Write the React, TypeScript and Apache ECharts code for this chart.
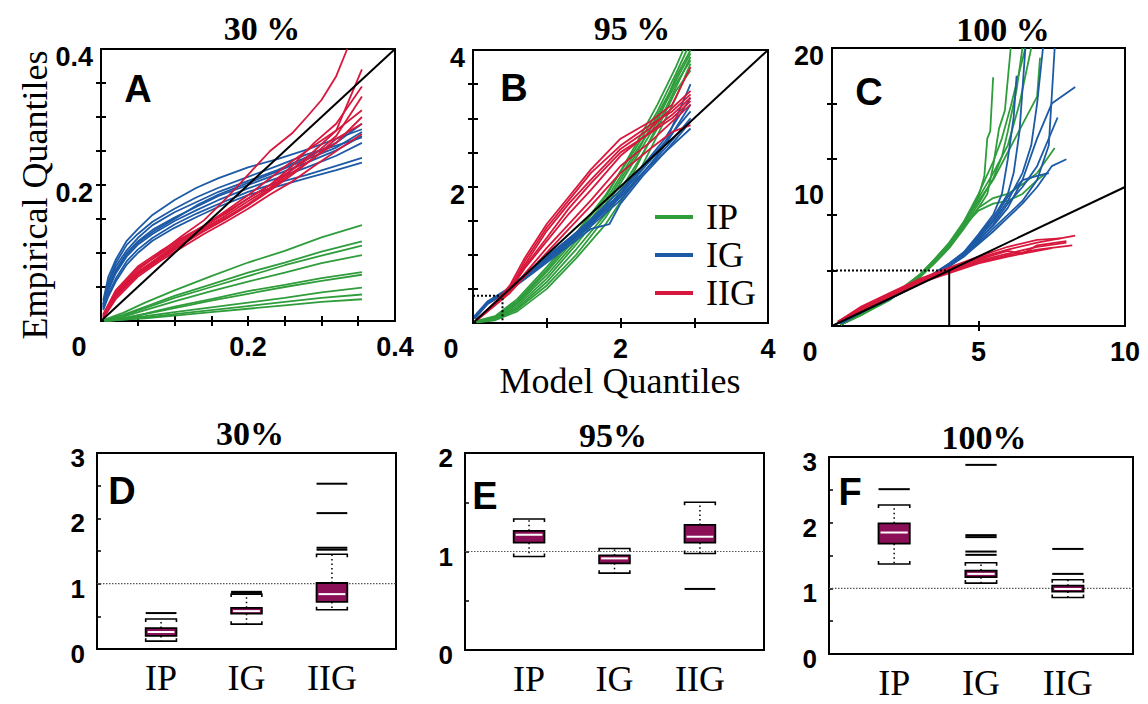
import React, { useEffect, useRef } from 'react';
import * as echarts from 'echarts';

const GREEN = '#2f9d3b';
const BLUE = '#1d5aa6';
const RED = '#d8173c';
const BOX_FILL = '#8b0f57';
const SERIF = '"Liberation Serif", "Times New Roman", serif';
const SANS = '"Liberation Sans", Arial, sans-serif';

// ---------- Panel A (30 %) ----------
const A_IP = [
  [[0.005, 0.002], [0.03, 0.012], [0.06, 0.027], [0.1, 0.045], [0.15, 0.066], [0.2, 0.086], [0.25, 0.103], [0.3, 0.123], [0.355, 0.141]],
  [[0.005, 0.001], [0.03, 0.009], [0.06, 0.021], [0.1, 0.037], [0.15, 0.054], [0.2, 0.071], [0.25, 0.086], [0.3, 0.102], [0.355, 0.117]],
  [[0.005, 0.001], [0.03, 0.008], [0.06, 0.019], [0.1, 0.034], [0.15, 0.05], [0.2, 0.066], [0.25, 0.082], [0.3, 0.096], [0.355, 0.111]],
  [[0.005, 0.001], [0.03, 0.006], [0.06, 0.016], [0.1, 0.029], [0.15, 0.044], [0.2, 0.058], [0.25, 0.071], [0.3, 0.085], [0.355, 0.097]],
  [[0.005, 0.001], [0.03, 0.004], [0.06, 0.011], [0.1, 0.021], [0.15, 0.032], [0.2, 0.044], [0.25, 0.053], [0.3, 0.063], [0.355, 0.072]],
  [[0.005, 0.0], [0.03, 0.004], [0.06, 0.01], [0.1, 0.019], [0.15, 0.03], [0.2, 0.04], [0.25, 0.05], [0.3, 0.059], [0.355, 0.068]],
  [[0.005, 0.0], [0.03, 0.003], [0.06, 0.007], [0.1, 0.013], [0.15, 0.02], [0.2, 0.027], [0.25, 0.034], [0.3, 0.042], [0.355, 0.049]],
  [[0.005, 0.0], [0.03, 0.002], [0.06, 0.005], [0.1, 0.01], [0.15, 0.016], [0.2, 0.022], [0.25, 0.028], [0.3, 0.034], [0.355, 0.039]],
  [[0.005, 0.0], [0.03, 0.002], [0.06, 0.004], [0.1, 0.008], [0.15, 0.013], [0.2, 0.018], [0.25, 0.023], [0.3, 0.028], [0.355, 0.032]],
];
const A_IG = [
  [[0.003, 0.03], [0.01, 0.065], [0.02, 0.09], [0.035, 0.118], [0.05, 0.135], [0.07, 0.156], [0.1, 0.178], [0.13, 0.196], [0.16, 0.21], [0.2, 0.226], [0.24, 0.238], [0.28, 0.252], [0.32, 0.268], [0.355, 0.282]],
  [[0.003, 0.025], [0.01, 0.055], [0.02, 0.08], [0.035, 0.104], [0.05, 0.122], [0.07, 0.141], [0.1, 0.16], [0.13, 0.175], [0.16, 0.19], [0.2, 0.206], [0.24, 0.222], [0.28, 0.241], [0.32, 0.262], [0.355, 0.29]],
  [[0.003, 0.022], [0.01, 0.05], [0.02, 0.075], [0.035, 0.1], [0.05, 0.117], [0.07, 0.134], [0.1, 0.152], [0.13, 0.168], [0.16, 0.184], [0.2, 0.2], [0.24, 0.216], [0.28, 0.233], [0.32, 0.251], [0.355, 0.272]],
  [[0.003, 0.02], [0.01, 0.045], [0.02, 0.07], [0.035, 0.095], [0.05, 0.112], [0.07, 0.128], [0.1, 0.147], [0.13, 0.163], [0.16, 0.178], [0.2, 0.195], [0.24, 0.21], [0.28, 0.226], [0.32, 0.243], [0.355, 0.262]],
  [[0.003, 0.018], [0.01, 0.04], [0.02, 0.062], [0.035, 0.088], [0.05, 0.105], [0.07, 0.122], [0.1, 0.142], [0.13, 0.158], [0.16, 0.172], [0.2, 0.19], [0.24, 0.203], [0.28, 0.215], [0.32, 0.228], [0.355, 0.24]],
  [[0.003, 0.016], [0.01, 0.036], [0.02, 0.058], [0.035, 0.083], [0.05, 0.1], [0.07, 0.118], [0.1, 0.137], [0.13, 0.153], [0.16, 0.168], [0.2, 0.185], [0.24, 0.198], [0.28, 0.21], [0.32, 0.222], [0.355, 0.233]],
  [[0.003, 0.024], [0.01, 0.058], [0.02, 0.085], [0.035, 0.112], [0.05, 0.128], [0.07, 0.146], [0.1, 0.165], [0.13, 0.182], [0.16, 0.196], [0.2, 0.212], [0.24, 0.228], [0.28, 0.245], [0.32, 0.258], [0.355, 0.27]],
  [[0.003, 0.02], [0.01, 0.048], [0.02, 0.072], [0.035, 0.098], [0.05, 0.115], [0.07, 0.131], [0.1, 0.15], [0.13, 0.17], [0.16, 0.186], [0.2, 0.203], [0.24, 0.22], [0.28, 0.238], [0.32, 0.255], [0.355, 0.278]],
];
const A_IIG = [
  [[0.003, 0.008], [0.02, 0.04], [0.05, 0.075], [0.08, 0.1], [0.11, 0.125], [0.14, 0.148], [0.17, 0.18], [0.2, 0.215], [0.23, 0.25], [0.26, 0.276], [0.28, 0.3], [0.3, 0.325], [0.32, 0.36], [0.335, 0.4]],
  [[0.003, 0.01], [0.02, 0.045], [0.05, 0.08], [0.08, 0.102], [0.11, 0.122], [0.14, 0.14], [0.17, 0.158], [0.2, 0.18], [0.23, 0.2], [0.26, 0.223], [0.29, 0.25], [0.32, 0.28], [0.355, 0.37]],
  [[0.003, 0.006], [0.02, 0.04], [0.05, 0.072], [0.08, 0.095], [0.11, 0.118], [0.14, 0.136], [0.17, 0.155], [0.2, 0.176], [0.23, 0.196], [0.26, 0.222], [0.29, 0.245], [0.32, 0.272], [0.355, 0.33]],
  [[0.003, 0.005], [0.02, 0.035], [0.05, 0.068], [0.08, 0.09], [0.11, 0.112], [0.14, 0.132], [0.17, 0.15], [0.2, 0.17], [0.23, 0.192], [0.26, 0.215], [0.29, 0.24], [0.32, 0.262], [0.355, 0.3]],
  [[0.003, 0.008], [0.02, 0.042], [0.05, 0.078], [0.08, 0.098], [0.11, 0.12], [0.14, 0.14], [0.17, 0.162], [0.2, 0.185], [0.23, 0.21], [0.26, 0.235], [0.29, 0.258], [0.32, 0.28], [0.355, 0.31]],
  [[0.003, 0.004], [0.02, 0.032], [0.05, 0.065], [0.08, 0.088], [0.11, 0.108], [0.14, 0.128], [0.17, 0.146], [0.2, 0.165], [0.23, 0.186], [0.26, 0.205], [0.29, 0.228], [0.32, 0.25], [0.355, 0.275]],
  [[0.003, 0.007], [0.02, 0.038], [0.05, 0.07], [0.08, 0.094], [0.11, 0.115], [0.14, 0.138], [0.17, 0.16], [0.2, 0.18], [0.23, 0.2], [0.26, 0.228], [0.29, 0.262], [0.32, 0.29], [0.355, 0.345]],
  [[0.003, 0.006], [0.02, 0.036], [0.05, 0.07], [0.08, 0.092], [0.11, 0.113], [0.14, 0.134], [0.17, 0.152], [0.2, 0.172], [0.23, 0.194], [0.26, 0.218], [0.29, 0.24], [0.32, 0.268], [0.355, 0.29]],
];

// ---------- Panel B (95 %) ----------
const B_IP = [
  [[0.05, 0.02], [0.3, 0.08], [0.6, 0.3], [1.0, 0.75], [1.4, 1.25], [1.8, 1.8], [2.2, 2.5], [2.5, 3.0], [2.75, 3.5], [2.95, 3.85]],
  [[0.05, 0.02], [0.3, 0.06], [0.6, 0.25], [1.0, 0.65], [1.4, 1.15], [1.8, 1.7], [2.2, 2.4], [2.5, 2.95], [2.75, 3.6], [2.95, 4.0]],
  [[0.05, 0.01], [0.3, 0.05], [0.6, 0.2], [1.0, 0.55], [1.4, 1.0], [1.8, 1.55], [2.2, 2.25], [2.5, 2.9], [2.75, 3.45], [2.95, 3.9]],
  [[0.05, 0.03], [0.3, 0.1], [0.6, 0.35], [1.0, 0.82], [1.4, 1.32], [1.8, 1.88], [2.2, 2.55], [2.5, 3.1], [2.75, 3.65], [2.9, 4.0]],
  [[0.05, 0.02], [0.3, 0.07], [0.6, 0.28], [1.0, 0.7], [1.4, 1.2], [1.8, 1.75], [2.2, 2.45], [2.5, 3.05], [2.75, 3.55], [2.95, 3.95]],
  [[0.05, 0.01], [0.3, 0.04], [0.6, 0.17], [1.0, 0.5], [1.4, 0.95], [1.8, 1.45], [2.2, 2.1], [2.5, 2.75], [2.75, 3.3], [2.95, 3.8]],
  [[0.05, 0.02], [0.3, 0.09], [0.6, 0.32], [1.0, 0.78], [1.4, 1.3], [1.8, 1.85], [2.2, 2.6], [2.5, 3.2], [2.75, 3.75], [2.85, 4.0]],
  [[0.05, 0.02], [0.3, 0.06], [0.6, 0.22], [1.0, 0.6], [1.4, 1.08], [1.8, 1.6], [2.2, 2.3], [2.5, 2.85], [2.75, 3.4], [2.95, 3.7]],
];
const B_IG = [
  [[0.02, 0.08], [0.2, 0.3], [0.5, 0.5], [0.8, 0.75], [1.2, 1.1], [1.6, 1.45], [2.0, 1.85], [2.3, 2.2], [2.6, 2.55], [2.95, 3.0]],
  [[0.02, 0.1], [0.2, 0.32], [0.5, 0.52], [0.8, 0.8], [1.2, 1.15], [1.6, 1.5], [2.0, 1.9], [2.3, 2.3], [2.6, 2.7], [2.95, 3.3]],
  [[0.02, 0.06], [0.2, 0.28], [0.5, 0.48], [0.8, 0.72], [1.2, 1.05], [1.6, 1.38], [1.85, 1.45], [2.0, 1.75], [2.3, 2.15], [2.6, 2.5], [2.95, 2.95]],
  [[0.02, 0.09], [0.2, 0.31], [0.5, 0.51], [0.8, 0.78], [1.2, 1.12], [1.6, 1.48], [2.0, 1.88], [2.3, 2.25], [2.6, 2.62], [2.95, 3.5]],
  [[0.02, 0.07], [0.2, 0.29], [0.5, 0.49], [0.8, 0.74], [1.2, 1.08], [1.6, 1.42], [2.0, 1.8], [2.3, 2.18], [2.6, 2.6], [2.95, 3.2]],
  [[0.02, 0.08], [0.2, 0.3], [0.5, 0.5], [0.8, 0.77], [1.2, 1.13], [1.6, 1.52], [2.0, 1.95], [2.3, 2.28], [2.6, 2.65], [2.95, 3.1]],
  [[0.02, 0.09], [0.2, 0.3], [0.5, 0.5], [0.8, 0.76], [1.2, 1.1], [1.6, 1.46], [2.0, 1.84], [2.3, 2.2], [2.6, 2.5], [2.95, 2.85]],
];
const B_IIG = [
  [[0.05, 0.05], [0.3, 0.3], [0.5, 0.55], [0.7, 0.95], [1.0, 1.45], [1.3, 1.85], [1.6, 2.25], [2.0, 2.7], [2.4, 2.95], [2.7, 3.2], [2.95, 3.75]],
  [[0.05, 0.05], [0.3, 0.3], [0.5, 0.5], [0.7, 0.85], [1.0, 1.35], [1.3, 1.75], [1.6, 2.1], [2.0, 2.55], [2.4, 2.85], [2.7, 3.15], [2.95, 3.4]],
  [[0.05, 0.05], [0.3, 0.28], [0.5, 0.48], [0.7, 0.8], [1.0, 1.2], [1.3, 1.6], [1.6, 1.95], [2.0, 2.45], [2.4, 2.8], [2.7, 3.05], [2.95, 3.3]],
  [[0.05, 0.04], [0.3, 0.27], [0.5, 0.45], [0.7, 0.72], [1.0, 1.1], [1.3, 1.45], [1.6, 1.8], [2.0, 2.3], [2.4, 2.65], [2.7, 2.95], [2.95, 3.2]],
  [[0.05, 0.05], [0.3, 0.29], [0.5, 0.5], [0.7, 0.9], [1.0, 1.4], [1.3, 1.8], [1.6, 2.2], [2.0, 2.6], [2.4, 2.9], [2.7, 3.1], [2.95, 3.35]],
  [[0.05, 0.04], [0.3, 0.26], [0.5, 0.44], [0.7, 0.68], [1.0, 1.03], [1.3, 1.38], [1.6, 1.72], [2.0, 2.2], [2.4, 2.55], [2.7, 2.8], [2.95, 2.9]],
  [[0.05, 0.05], [0.3, 0.3], [0.5, 0.52], [0.7, 0.82], [1.0, 1.25], [1.3, 1.68], [1.6, 2.05], [2.0, 2.5], [2.4, 2.78], [2.7, 3.0], [2.95, 3.25]],
];

// ---------- Panel C (100 %) ----------
const C_IP = [
  [[0.3, 0.1], [1, 0.8], [2, 2.0], [3, 3.6], [3.5, 4.6], [4, 5.8], [4.5, 7.2], [5, 8.8], [5.5, 10.6], [5.8, 12.2], [6.0, 14], [6.3, 17], [6.5, 20]],
  [[0.3, 0.1], [1, 0.9], [2, 2.1], [3, 3.7], [3.5, 4.8], [4, 6.0], [4.5, 7.5], [5, 9.2], [5.5, 11], [6, 13], [6.4, 16], [6.8, 20]],
  [[0.3, 0.1], [1, 0.8], [2, 1.9], [3, 3.5], [3.5, 4.5], [4, 5.6], [4.5, 7.0], [5, 8.5], [5.3, 9.5], [5.5, 11.5], [5.7, 14.2], [5.9, 15.5], [6.1, 20]],
  [[0.3, 0.1], [1, 0.85], [2, 2.0], [3, 3.6], [4, 5.8], [4.5, 7.3], [5, 9.3], [5.2, 10.8], [5.3, 13.5], [5.4, 14.0], [5.5, 17.9]],
  [[0.3, 0.1], [1, 0.9], [2, 2.0], [3, 3.6], [4, 5.7], [4.5, 7.1], [5, 8.5], [5.5, 9.2], [6, 9.5], [6.5, 10.2], [7, 11.0], [7.6, 12.8]],
  [[0.3, 0.1], [1, 0.85], [2, 2.0], [3, 3.7], [4, 5.9], [4.5, 7.4], [5, 9.0], [5.5, 10.5], [6, 12.5], [6.5, 14.5], [7, 16.5], [7.1, 19.3]],
  [[0.3, 0.1], [1, 0.8], [2, 2.0], [3, 3.55], [4, 5.7], [4.5, 7.2], [5, 8.3], [5.5, 8.8], [6, 9.0], [6.5, 9.5], [7, 10.5], [7.3, 11.0]],
  [[0.3, 0.1], [1, 0.85], [2, 2.05], [3, 3.65], [4, 5.9], [4.5, 7.5], [5, 9.5], [5.5, 11.8], [5.8, 13.5], [6.1, 15.8], [6.3, 17.5], [6.6, 20]],
];
const C_IG = [
  [[0.3, 0.2], [1, 1.0], [2, 2.0], [3, 3.1], [4, 4.4], [4.5, 5.2], [5, 6.3], [5.5, 7.5], [6, 9.0], [6.5, 11.0], [6.8, 13], [7.0, 16], [7.2, 20]],
  [[0.3, 0.2], [1, 1.0], [2, 2.0], [3, 3.05], [4, 4.3], [4.5, 5.0], [5, 6.0], [5.5, 7.0], [6, 8.0], [6.5, 9.0], [7, 10.5], [7.4, 13.0], [7.6, 20]],
  [[0.3, 0.2], [1, 1.0], [2, 2.05], [3, 3.15], [4, 4.5], [4.5, 5.3], [5, 6.5], [5.5, 7.8], [6, 9.5], [6.2, 11], [6.4, 14], [6.5, 17], [6.6, 20]],
  [[0.3, 0.2], [1, 1.0], [2, 2.0], [3, 3.1], [4, 4.4], [4.5, 5.1], [5, 6.2], [5.5, 7.2], [6, 8.5], [6.5, 10.5], [7, 13.5], [7.5, 16], [8.3, 17.2]],
  [[0.3, 0.2], [1, 1.0], [2, 2.0], [3, 3.05], [4, 4.3], [4.5, 5.0], [5, 5.9], [5.5, 6.8], [6, 7.8], [6.5, 8.8], [7, 10], [7.5, 11.5], [8.0, 12.0]],
  [[0.3, 0.2], [1, 1.0], [2, 2.0], [3, 3.1], [4, 4.35], [4.5, 5.1], [5, 6.1], [5.5, 7.3], [6, 8.8], [6.5, 10], [7, 11.5], [7.7, 15.0]],
  [[0.3, 0.2], [1, 1.0], [2, 2.0], [3, 3.1], [4, 4.4], [4.5, 5.2], [5, 6.4], [5.5, 7.6], [6, 9.3], [6.5, 10.5], [7, 10.8], [7.4, 11.0]],
  [[0.3, 0.2], [1, 1.0], [2, 2.0], [3, 3.1], [4, 4.5], [4.5, 5.3], [5, 6.6], [5.5, 8.0], [5.8, 9.5], [6, 12], [6.2, 15], [6.3, 18]],
];
const C_IIG = [
  [[0.2, 0.3], [1, 1.3], [2, 2.3], [3, 3.3], [4, 4.1], [5, 4.9], [6, 5.5], [7, 6.0], [8.3, 6.5]],
  [[0.2, 0.2], [1, 1.2], [2, 2.2], [3, 3.2], [4, 3.9], [5, 4.6], [6, 5.1], [7, 5.5], [8.2, 5.8]],
  [[0.2, 0.3], [1, 1.4], [2, 2.4], [3, 3.4], [4, 4.2], [5, 5.0], [6, 5.7], [7, 6.2], [7.8, 6.3]],
  [[0.2, 0.2], [1, 1.1], [2, 2.1], [3, 3.1], [4, 3.8], [5, 4.5], [6, 5.0], [7, 5.4], [7.5, 5.6]],
  [[0.2, 0.3], [1, 1.3], [2, 2.3], [3, 3.25], [4, 4.0], [5, 4.8], [6, 5.4], [6.5, 5.2], [7, 5.8], [8, 6.1]],
  [[0.2, 0.2], [1, 1.2], [2, 2.2], [3, 3.1], [4, 3.95], [5, 4.7], [6, 5.2], [7, 5.7], [8.0, 6.0]],
];

// Axis ranges / ticks / tick labels (top row)
const A_MAX = 0.4;
const A_TICKS = [0.05, 0.1, 0.15, 0.2, 0.25, 0.3, 0.35];
const A_XLABELS = [0, 0.2, 0.4];
const A_YLABELS = [0.2, 0.4];
const B_MAX = 4;
const B_XTICKS = [1, 2, 3];
const B_YTICKS = [0.5, 1, 1.5, 2, 2.5, 3, 3.5];
const B_XLABELS = [0, 2, 4];
const B_YLABELS = [2, 4];
const B_ZOOM_BOX = [[0, 0.4], [0.4, 0.4], [0.4, 0]];
const C_XMAX = 10;
const C_YMAX = 20;
const C_XTICKS = [5];
const C_YTICKS = [4, 8, 12, 16];
const C_XLABELS = [0, 5, 10];
const C_YLABELS = [10, 20];
const C_ZOOM_TOP = [[0, 4], [4, 4]];
const C_ZOOM_SIDE = [[4, 4], [4, 0]];

// ---------- Bottom row box plots: [low, q1, median, q3, high] ----------
const GROUPS = ['IP', 'IG', 'IIG'];
const D_BOX = [[0.12, 0.2, 0.26, 0.32, 0.46], [0.38, 0.54, 0.58, 0.63, 0.84], [0.6, 0.72, 0.84, 1.01, 1.45]];
const D_OUT = [[0.55], [0.86, 0.875], [1.52, 1.55, 2.08, 2.53]];
const E_BOX = [[0.95, 1.09, 1.17, 1.21, 1.33], [0.78, 0.88, 0.93, 0.96, 1.03], [0.98, 1.09, 1.15, 1.27, 1.5]];
const E_OUT = [[], [], [0.62]];
const F_BOX = [[1.37, 1.68, 1.85, 1.99, 2.27], [1.08, 1.17, 1.22, 1.27, 1.39], [0.86, 0.95, 0.99, 1.04, 1.13]];
const F_OUT = [[2.51], [1.51, 1.56, 1.78, 1.81, 2.88], [1.22, 1.6]];
const D_YMAX = 3;
const E_YMAX = 2;
const F_YMAX = 3;
const D_YLABELS = [0, 1, 2, 3];
const E_YLABELS = [0, 1, 2];
const F_YLABELS = [0, 1, 2, 3];
const D_YTICKS = [0.5, 1, 1.5, 2, 2.5];
const E_YTICKS = [0.5, 1, 1.5];
const F_YTICKS = [0.5, 1, 1.5, 2, 2.5];
const BOX_XMIN = 0.25;
const BOX_XMAX = 3.75;
const REF_VALUE = 1;

const tickFont = { fontFamily: SANS, fontWeight: 'bold' as const, fontSize: 27, color: '#000' };

function renderBox(params: any, api: any) {
  const x = api.value(0);
  const low = api.coord([x, api.value(1)]);
  const q1 = api.coord([x, api.value(2)]);
  const med = api.coord([x, api.value(3)]);
  const q3 = api.coord([x, api.value(4)]);
  const high = api.coord([x, api.value(5)]);
  const w = api.size([0.36, 0])[0];
  const cx = low[0];
  const e = 3;
  const black = { stroke: '#000', lineWidth: 1.6 };
  return {
    type: 'group',
    children: [
      { type: 'line', shape: { x1: cx, y1: q3[1], x2: cx, y2: high[1] }, style: { stroke: '#000', lineWidth: 1.5, lineDash: [1.5, 3] } },
      { type: 'line', shape: { x1: cx, y1: q1[1], x2: cx, y2: low[1] }, style: { stroke: '#000', lineWidth: 1.5, lineDash: [1.5, 3] } },
      { type: 'polyline', shape: { points: [[cx - w / 2, high[1] + e], [cx - w / 2, high[1]], [cx + w / 2, high[1]], [cx + w / 2, high[1] + e]] }, style: { ...black, fill: null } },
      { type: 'polyline', shape: { points: [[cx - w / 2, low[1] - e], [cx - w / 2, low[1]], [cx + w / 2, low[1]], [cx + w / 2, low[1] - e]] }, style: { ...black, fill: null } },
      { type: 'rect', shape: { x: cx - w / 2, y: q3[1], width: w, height: q1[1] - q3[1] }, style: { fill: BOX_FILL, stroke: '#000', lineWidth: 1.8 } },
      { type: 'line', shape: { x1: cx - w / 2 + 2, y1: med[1], x2: cx + w / 2 - 2, y2: med[1] }, style: { stroke: '#fff', lineWidth: 2 } },
    ],
  };
}

function renderOutlier(params: any, api: any) {
  const p = api.coord([api.value(0), api.value(1)]);
  const w = api.size([0.36, 0])[0];
  return { type: 'line', shape: { x1: p[0] - w / 2, y1: p[1], x2: p[0] + w / 2, y2: p[1] }, style: { stroke: '#000', lineWidth: 2 } };
}

export default function App() {
  const ref = useRef<HTMLDivElement>(null);
  useEffect(() => {
    if (!ref.current) return;
    const chart = echarts.init(ref.current, null, { renderer: 'svg' });

    const grids = [
      { left: 101, top: 49, width: 294, height: 272 },
      { left: 473, top: 50, width: 295, height: 273 },
      { left: 832, top: 48, width: 293, height: 278 },
      { left: 97, top: 453, width: 299, height: 196 },
      { left: 465, top: 453, width: 299, height: 197 },
      { left: 829, top: 457, width: 304, height: 197 },
    ].map((g) => ({ ...g, show: true, borderColor: '#000', borderWidth: 2, backgroundColor: 'transparent' }));

    const zeroShift = (v: number) => (v === 0 ? '{z|0}' : '{n|' + v + '}');
    const tickStyle = { show: true, inside: true, length: 5, lineStyle: { color: '#000', width: 2 } };
    const mainX = (gi: number, max: number, ticks: number[], labels: number[]) => ({
      gridIndex: gi, type: 'value', min: 0, max, position: 'bottom',
      splitLine: { show: false }, axisLine: { show: false },
      axisTick: { ...tickStyle, customValues: ticks },
      axisLabel: { customValues: labels, formatter: zeroShift, margin: 12, hideOverlap: false, ...tickFont, rich: { z: { ...tickFont, padding: [0, 44, 0, 0] }, n: { ...tickFont } } },
    });
    const mainY = (gi: number, max: number, ticks: number[], labels: number[]) => ({
      gridIndex: gi, type: 'value', min: 0, max, position: 'left',
      splitLine: { show: false }, axisLine: { show: false },
      axisTick: { ...tickStyle, customValues: ticks },
      axisLabel: { customValues: labels, margin: 8, hideOverlap: false, formatter: (v: number) => '{d|' + v + '}', ...tickFont, rich: { d: { ...tickFont, padding: [16, 0, 0, 0] } } },
    });
    const sideX = (gi: number, max: number, ticks: number[]) => ({
      gridIndex: gi, type: 'value', min: 0, max, position: 'top',
      splitLine: { show: false }, axisLine: { show: false }, axisLabel: { show: false },
      axisTick: { ...tickStyle, customValues: ticks },
    });
    const sideY = (gi: number, max: number, ticks: number[]) => ({
      gridIndex: gi, type: 'value', min: 0, max, position: 'right',
      splitLine: { show: false }, axisLine: { show: false }, axisLabel: { show: false },
      axisTick: { ...tickStyle, customValues: ticks },
    });
    const boxX = (gi: number) => ({
      gridIndex: gi, type: 'value', min: BOX_XMIN, max: BOX_XMAX, position: 'bottom',
      splitLine: { show: false }, axisLine: { show: false }, axisTick: { show: false },
      axisLabel: { customValues: [1, 2, 3], formatter: (v: number) => GROUPS[v - 1], margin: 11, hideOverlap: false, fontFamily: SERIF, fontSize: 36, color: '#000' },
    });
    const boxY = (gi: number, max: number, ticks: number[], labels: number[]) => ({
      gridIndex: gi, type: 'value', min: 0, max, position: 'left',
      splitLine: { show: false }, axisLine: { show: false },
      axisTick: { show: true, inside: true, length: 4, customValues: ticks, lineStyle: { color: '#000', width: 1.5 } },
      axisLabel: { customValues: labels, margin: 12, hideOverlap: false, formatter: (v: number) => '{d|' + v + '}', ...tickFont, fontSize: 26, rich: { d: { ...tickFont, fontSize: 26, padding: [10, 0, 0, 0] } } },
    });

    const xAxis = [
      mainX(0, A_MAX, A_TICKS, A_XLABELS),
      mainX(1, B_MAX, B_XTICKS, B_XLABELS),
      mainX(2, C_XMAX, C_XTICKS, C_XLABELS),
      sideX(0, A_MAX, A_TICKS),
      sideX(1, B_MAX, B_XTICKS),
      sideX(2, C_XMAX, C_XTICKS),
      boxX(3), boxX(4), boxX(5),
    ];
    const yAxis = [
      mainY(0, A_MAX, A_TICKS, A_YLABELS),
      mainY(1, B_MAX, B_YTICKS, B_YLABELS),
      mainY(2, C_YMAX, C_YTICKS, C_YLABELS),
      sideY(0, A_MAX, A_TICKS),
      sideY(1, B_MAX, B_YTICKS),
      sideY(2, C_YMAX, C_YTICKS),
      boxY(3, D_YMAX, D_YTICKS, D_YLABELS),
      boxY(4, E_YMAX, E_YTICKS, E_YLABELS),
      boxY(5, F_YMAX, F_YTICKS, F_YLABELS),
    ];

    const curves = (name: string, color: string, list: number[][][], ai: number) =>
      list.map((c) => ({
        type: 'line', name, data: c, xAxisIndex: ai, yAxisIndex: ai, showSymbol: false, symbol: 'none',
        lineStyle: { color, width: 1.8 }, itemStyle: { color }, silent: true, z: 2,
      }));
    const blackLine = (data: number[][], ai: number, dotted: boolean) => ({
      type: 'line', data, xAxisIndex: ai, yAxisIndex: ai, showSymbol: false, symbol: 'none', silent: true, z: 4,
      lineStyle: { color: '#000', width: 2, type: dotted ? [2, 2] : 'solid' },
    });
    const refLine = (ai: number) => ({
      type: 'line', data: [[BOX_XMIN, REF_VALUE], [BOX_XMAX, REF_VALUE]], xAxisIndex: ai, yAxisIndex: ai,
      showSymbol: false, symbol: 'none', silent: true, z: 1, lineStyle: { color: '#555', width: 1.2, type: [1.5, 1.5] },
    });
    const boxSeries = (boxes: number[][], ai: number) => ({
      type: 'custom', xAxisIndex: ai, yAxisIndex: ai, silent: true, z: 3,
      data: boxes.map((b, i) => [i + 1, ...b]), encode: { x: 0, y: [1, 2, 3, 4, 5] }, renderItem: renderBox,
    });
    const outSeries = (outs: number[][], ai: number) => ({
      type: 'custom', xAxisIndex: ai, yAxisIndex: ai, silent: true, z: 3,
      data: outs.flatMap((o, i) => o.map((v) => [i + 1, v])), encode: { x: 0, y: 1 }, renderItem: renderOutlier,
    });

    const series: any[] = [
      ...curves('IP', GREEN, A_IP, 0), ...curves('IG', BLUE, A_IG, 0), ...curves('IIG', RED, A_IIG, 0),
      blackLine([[0, 0], [A_MAX, A_MAX]], 0, false),
      ...curves('IP', GREEN, B_IP, 1), ...curves('IG', BLUE, B_IG, 1), ...curves('IIG', RED, B_IIG, 1),
      blackLine([[0, 0], [B_MAX, B_MAX]], 1, false),
      blackLine(B_ZOOM_BOX, 1, true),
      ...curves('IP', GREEN, C_IP, 2), ...curves('IG', BLUE, C_IG, 2), ...curves('IIG', RED, C_IIG, 2),
      blackLine([[0, 0], [C_XMAX, C_XMAX]], 2, false),
      blackLine(C_ZOOM_TOP, 2, true),
      blackLine(C_ZOOM_SIDE, 2, false),
      refLine(6), boxSeries(D_BOX, 6), outSeries(D_OUT, 6),
      refLine(7), boxSeries(E_BOX, 7), outSeries(E_OUT, 7),
      refLine(8), boxSeries(F_BOX, 8), outSeries(F_OUT, 8),
    ];

    const txt = (text: string, x: number, y: number, font: any, extra: any = {}) => ({
      type: 'text', x, y, silent: true, ...extra,
      style: { text, fill: '#000', align: 'center', verticalAlign: 'middle', ...font },
    });
    const titleFont = { fontFamily: SERIF, fontWeight: 'bold', fontSize: 34 };
    const letterFont = { fontFamily: SANS, fontWeight: 'bold', fontSize: 38 };
    const nameFont = { fontFamily: SERIF, fontSize: 36 };

    chart.setOption({
      animation: false,
      backgroundColor: '#fff',
      grid: grids,
      xAxis,
      yAxis,
      series,
      legend: {
        data: GROUPS, orient: 'vertical', left: 655, top: 199, itemWidth: 38, itemHeight: 4, itemGap: 2,
        icon: 'rect', selectedMode: false, padding: 0,
        textStyle: { fontFamily: SERIF, fontSize: 36, color: '#000', padding: [0, 0, 0, 8] },
      },
      graphic: [
        txt('30 %', 262, 28, titleFont),
        txt('95 %', 632, 28, titleFont),
        txt('100 %', 1003, 29, titleFont),
        txt('30%', 250, 433, titleFont),
        txt('95%', 613, 435, titleFont),
        txt('100%', 984, 437, titleFont),
        txt('A', 138, 89, letterFont),
        txt('B', 514, 88, letterFont),
        txt('C', 869, 92, letterFont),
        txt('D', 122, 491, letterFont),
        txt('E', 485, 496, letterFont),
        txt('F', 850, 492, letterFont),
        txt('Empirical Quantiles', 35, 195, nameFont, { rotation: Math.PI / 2 }),
        txt('Model Quantiles', 620, 381, nameFont),
      ],
    });
    return () => chart.dispose();
  }, []);
  return <div ref={ref} style={{ position: 'absolute', left: 0, top: 0, width: 1148, height: 704, background: '#fff' }} />;
}
